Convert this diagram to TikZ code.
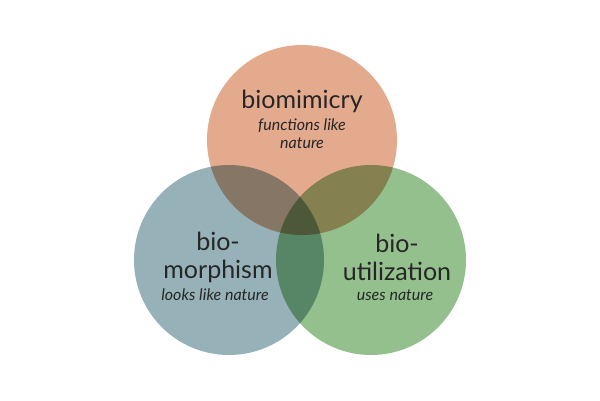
\documentclass[tikz,border=0pt]{standalone}
\usepackage{fontspec}
\setmainfont{Lato}
\begin{document}
\begin{tikzpicture}[x=1pt,y=-1pt,
  circ/.style={blend mode=multiply,draw=none},
  big/.style={font=\fontsize{25}{28}\selectfont,text=black!85,align=center},
  small/.style={font=\fontsize{16}{18}\selectfont\itshape,text=black!85,align=center}]
\useasboundingbox (0,0) rectangle (600,400);
\begin{scope}[transparency group]
\fill[circ,fill={rgb,255:red,228;green,170;blue,142}] (302,140) circle (95);
\fill[circ,fill={rgb,255:red,150;green,178;blue,184}] (229,260) circle (95);
\fill[circ,fill={rgb,255:red,148;green,192;blue,142}] (371,260) circle (95);
\end{scope}
\node[big] (t1) at (302,101) {biomimicry};
\node[small] (t2) at (302,134) {functions like\\nature};
\node[big] (l1) at (218,257) {bio-\\morphism};
\node[small] (l2) at (215,295) {looks like nature};
\node[big] (r1) at (397,257) {bio-\\utilization};
\node[small] (r2) at (395,295) {uses nature};
\end{tikzpicture}
\end{document}
